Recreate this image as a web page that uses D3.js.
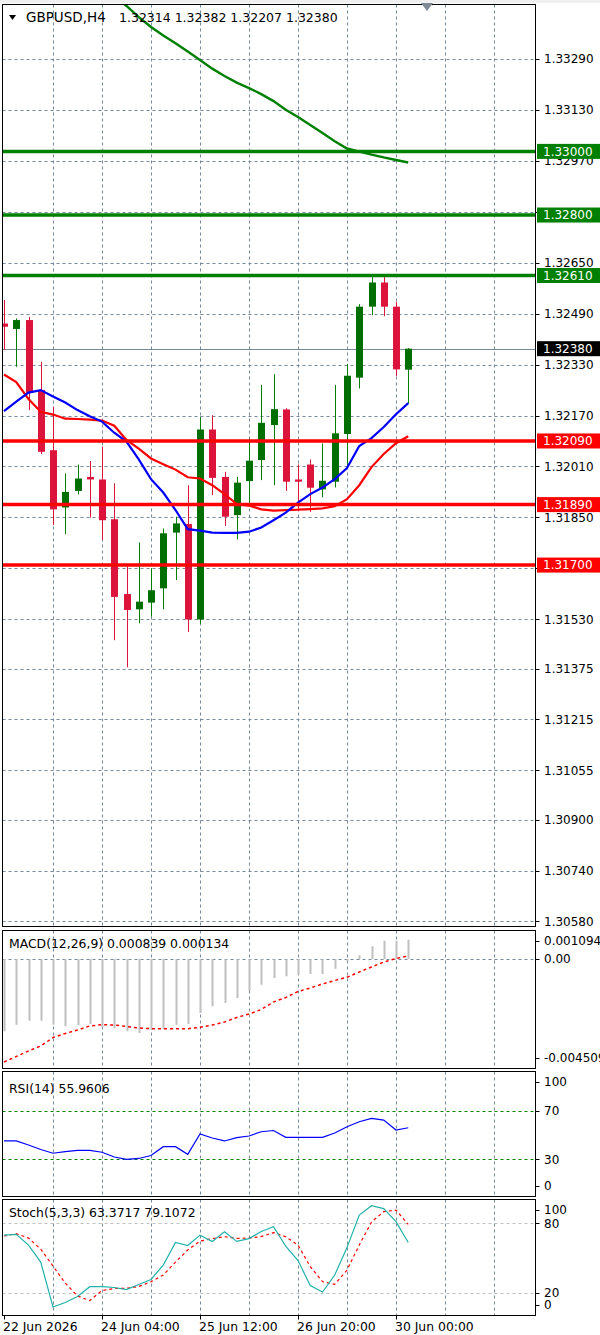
<!DOCTYPE html>
<html><head><meta charset="utf-8">
<script src="https://cdnjs.cloudflare.com/ajax/libs/d3/7.8.5/d3.min.js"></script>
<style>
body{margin:0;background:#fff;}
svg{display:block;font-family:"DejaVu Sans",sans-serif;}
</style>
</head><body>
<svg id="chart" width="600" height="1335"></svg>
<script>
// ---------------- DATA ----------------
const symbolTitle = "GBPUSD,H4";
const headerOHLC = ["1.32314", "1.32382", "1.32207", "1.32380"];

const opens  = [1.32459,1.32442,1.32470,1.32250,1.32061,1.31881,1.31933,1.31977,1.31969,1.31844,
                1.31609,1.31561,1.31582,1.31627,1.31802,1.31829,1.31529,1.32126,1.31977,1.31857,
                1.31964,1.32030,1.32140,1.32189,1.31969,1.32016,1.31938,1.31962,1.32112,1.32289,
                1.32512,1.32588,1.32512,1.32314];
const highs  = [1.32533,1.32475,1.32480,1.32339,1.32197,1.31988,1.32016,1.32027,1.32072,1.31957,
                1.31695,1.31771,1.31690,1.31815,1.31852,1.31951,1.32166,1.32171,1.31993,1.31977,
                1.32098,1.32266,1.32300,1.32193,1.32016,1.32032,1.32082,1.32266,1.32332,1.32520,
                1.32606,1.32606,1.32527,1.32382];
const lows   = [1.32376,1.32323,1.32187,1.32049,1.31826,1.31797,1.31922,1.31849,1.31779,1.31464,
                1.31379,1.31517,1.31538,1.31561,1.31653,1.31490,1.31515,1.31920,1.31823,1.31781,
                1.31883,1.31967,1.31951,1.31933,1.31871,1.31867,1.31913,1.31944,1.32011,1.32255,
                1.32486,1.32482,1.32294,1.32207];
const closes = [1.32449,1.32470,1.32241,1.32056,1.31875,1.31930,1.31972,1.31969,1.31841,1.31600,
                1.31559,1.31585,1.31621,1.31800,1.31831,1.31529,1.32126,1.31974,1.31852,1.31959,
                1.32028,1.32147,1.32190,1.31962,1.31962,1.31943,1.31965,1.32114,1.32295,1.32512,
                1.32588,1.32512,1.32315,1.32380];

const maBlue = [1.32184,1.32214,1.32242,1.32250,1.32230,1.32211,1.32187,1.32168,1.32151,1.32116,
                1.32088,1.32032,1.31970,1.31928,1.31873,1.31813,1.31808,1.31802,1.31801,1.31801,
                1.31805,1.31818,1.31841,1.31865,1.31896,1.31923,1.31944,1.31970,1.32005,1.32074,
                1.32099,1.32134,1.32174,1.32209];
const maRed  = [1.32299,1.32275,1.32222,1.32182,1.32173,1.32160,1.32159,1.32157,1.32154,1.32138,
                1.32093,1.32066,1.32035,1.32017,1.32000,1.31976,1.31972,1.31951,1.31923,1.31892,
                1.31887,1.31875,1.31871,1.31873,1.31874,1.31876,1.31878,1.31885,1.31907,1.31951,
                1.32008,1.32049,1.32083,1.32105];
const maGreenStart = 8;
const maGreen = [1.33519,1.33488,1.33457,1.33422,1.33391,1.33364,1.33340,1.33314,1.33287,1.33260,
                 1.33237,1.33216,1.33199,1.33180,1.33158,1.33131,1.33108,1.33083,1.33058,1.33032,
                 1.33009,1.32999,1.32990,1.32981,1.32973,1.32965];

const greenLevels = [1.33000, 1.32800, 1.32610];
const redLevels   = [1.32090, 1.31890, 1.31700];
const currentPrice = 1.32380;

const priceTicks = [1.33290,1.33130,1.32970,1.32810,1.32650,1.32490,1.32330,1.32170,1.32010,
                    1.31850,1.31690,1.31530,1.31375,1.31215,1.31055,1.30900,1.30740,1.30580];

const macdHist = [-0.003165,-0.002876,-0.002701,-0.002701,-0.002880,-0.002946,-0.002902,-0.002845,-0.002990,-0.003020,
                  -0.003165,-0.003240,-0.003095,-0.003051,-0.002876,-0.002845,-0.002364,-0.002071,-0.001926,-0.001707,
                  -0.001414,-0.001125,-0.000832,-0.000757,-0.000687,-0.000657,-0.000657,-0.000425,-0.000100,0.000162,
                  0.000556,0.000801,0.000801,0.000839];
const macdSignal = [-0.004509,-0.004268,-0.004027,-0.003809,-0.003437,-0.003261,-0.003108,-0.002933,-0.002876,-0.002889,
                    -0.002955,-0.003020,-0.003051,-0.003051,-0.003051,-0.003051,-0.002990,-0.002889,-0.002758,-0.002561,
                    -0.002408,-0.002211,-0.001882,-0.001685,-0.001423,-0.001270,-0.001094,-0.000941,-0.000801,-0.000569,
                    -0.000350,-0.000131,0.000020,0.000134];
const macdAxis = [{v:0.001094,t:"0.001094"},{v:0,t:"0.00"},{v:-0.004509,t:"-0.004509"}];
const macdTitle = "MACD(12,26,9) 0.000839 0.000134";

const rsi = [45.1,45.1,41.8,38.1,35.0,36.4,37.4,37.4,35.8,31.9,
             29.9,30.7,33.1,40.4,40.4,34.1,50.8,47.5,45.1,47.8,
             49.2,52.7,53.7,48.1,48.1,48.1,48.1,51.6,56.8,60.9,
             63.7,62.3,54.1,55.96];
const rsiLevels = [70, 30];
const rsiAxis = [100, 70, 30, 0];
const rsiTitle = "RSI(14) 55.9606";

const stochK = [69.8,70.4,61.2,46.5,7.6,11.5,16.7,25.2,25.2,24.5,
                22.6,27.1,31.4,43.9,63.5,60.8,69.8,64.2,72.7,64.4,
                66.8,72.9,77.0,60.3,47.8,26.2,20.6,35.3,59.0,87.1,
                95.2,92.7,81.5,63.37];
const stochD = [69.0,71.1,67.2,57.7,43.0,28.3,17.1,13.2,21.9,23.6,
                23.8,25.3,29.5,35.3,46.5,56.9,64.6,66.8,68.4,67.0,
                67.2,68.5,72.0,68.4,61.2,42.6,29.6,27.2,39.6,61.2,
                81.1,90.1,91.4,79.11];
const stochLevels = [80, 20];
const stochAxis = [100, 80, 20, 0];
const stochTitle = "Stoch(5,3,3) 63.3717 79.1072";

const timeLabels = ["22 Jun 2026","24 Jun 04:00","25 Jun 12:00","26 Jun 20:00","30 Jun 00:00"];
const timeLabelBars = [0, 8, 16, 24, 32];
const gridBars = [4,8,12,16,20,24,28,32,36,40];

// ---------------- LAYOUT ----------------
const L = 2.5, R = 535.5;
const panels = {
  main:  {top: 4.5,    bottom: 926.5},
  macd:  {top: 930.5,  bottom: 1068.5},
  rsi:   {top: 1071.5, bottom: 1196.5},
  stoch: {top: 1199.5, bottom: 1315.5}
};
const GRID = "#778899";
const FS = 12;

const svg = d3.select("#chart");
svg.append("rect").attr("width",600).attr("height",1335).attr("fill","#fff");
svg.append("rect").attr("width",600).attr("height",3).attr("fill","#f0f0f0");

const x = d3.scaleLinear().domain([0, 43]).range([4, 4 + 12.25*43]);
const yMain  = d3.scaleLinear().domain([1.30569, 1.33460]).range([925, 5]);
const yMacd  = d3.scaleLinear().domain([-0.004509, 0.001094]).range([1062, 934]);
const yRsi   = d3.scaleLinear().domain([0, 100]).range([1195.8, 1074.2]);
const yStoch = d3.scaleLinear().domain([0, 100]).range([1315.8, 1200.2]);

const defs = svg.append("defs");
Object.entries(panels).forEach(([k,p]) => {
  defs.append("clipPath").attr("id","clip-"+k)
    .append("rect").attr("x",L).attr("y",p.top).attr("width",R-L).attr("height",p.bottom-p.top);
});

function vGrid(g, p) {
  g.selectAll("line.vg").data(gridBars).join("line").attr("class","vg")
    .attr("x1", d => Math.round(x(d))+0.5).attr("x2", d => Math.round(x(d))+0.5)
    .attr("y1", p.top).attr("y2", p.bottom)
    .attr("stroke", GRID).attr("stroke-dasharray","3,3").attr("stroke-width",1);
}
function hLine(g, y, color, dash, w) {
  g.append("line").attr("x1",L).attr("x2",R).attr("y1",y).attr("y2",y)
    .attr("stroke",color).attr("stroke-width",w||1).attr("stroke-dasharray",dash||null);
}
function axisTick(y) {
  svg.append("line").attr("x1",R).attr("x2",R+4).attr("y1",Math.round(y)+0.5).attr("y2",Math.round(y)+0.5).attr("stroke","#000");
}
function axisText(y, t, fill) {
  axisTick(y);
  svg.append("text").attr("x",544).attr("y",y).attr("dy","0.36em")
    .attr("font-size",FS).attr("fill",fill||"#000").text(t);
}
function clampLabel(y, p) { return Math.min(Math.max(y, p.top + 10.5), p.bottom - 10.5); }

// ---------------- MAIN PANEL ----------------
const pm = panels.main;
const gMain = svg.append("g").attr("clip-path","url(#clip-main)");
vGrid(gMain, pm);
priceTicks.forEach(v => hLine(gMain, Math.round(yMain(v))+0.5, GRID, "3,3"));

// header
svg.append("path").attr("d","M9,15 L16,15 L12.5,20 Z").attr("fill","#000");
svg.append("text").attr("x",26).attr("y",17).attr("dy","0.36em").attr("font-size",13.5).attr("fill","#000")
  .text(symbolTitle);
svg.append("text").attr("x",119).attr("y",17).attr("dy","0.36em").attr("font-size",12.5).attr("fill","#000")
  .text(headerOHLC.join(" "));

// current price line
hLine(gMain, Math.round(yMain(currentPrice))+0.5, "#778899", null, 1);

// candles
const bars = d3.range(opens.length).map(i => ({i, o:opens[i], h:highs[i], l:lows[i], c:closes[i]}));
const up = "#006e00", dn = "#dc143c";
gMain.selectAll("line.wick").data(bars).join("line").attr("class","wick")
  .attr("x1", d => Math.round(x(d.i))+0.5).attr("x2", d => Math.round(x(d.i))+0.5)
  .attr("y1", d => yMain(d.h)).attr("y2", d => yMain(d.l))
  .attr("stroke", d => d.c >= d.o ? "#008000" : dn).attr("stroke-width",1);
gMain.selectAll("rect.body").data(bars).join("rect").attr("class","body")
  .attr("x", d => Math.round(x(d.i)) - 3)
  .attr("width", 7)
  .attr("y", d => yMain(Math.max(d.o,d.c)))
  .attr("height", d => Math.max(1.5, Math.abs(yMain(d.o) - yMain(d.c))))
  .attr("fill", d => d.c >= d.o ? up : dn);

// moving averages
const lineMain = d3.line().x(d => x(d[0])).y(d => yMain(d[1]));
gMain.append("path").attr("d", lineMain(maRed.map((v,i)=>[i,v]))).attr("fill","none").attr("stroke","#ff0000").attr("stroke-width",2.2);
gMain.append("path").attr("d", lineMain(maBlue.map((v,i)=>[i,v]))).attr("fill","none").attr("stroke","#0000ff").attr("stroke-width",2.2);
gMain.append("path").attr("d", lineMain(maGreen.map((v,i)=>[i+maGreenStart,v]))).attr("fill","none").attr("stroke","#008000").attr("stroke-width",2.4);

// levels
greenLevels.forEach(v => hLine(gMain, yMain(v), "#008000", null, 3.5));
redLevels.forEach(v => hLine(gMain, yMain(v), "#ff0000", null, 3.5));

// panel border
svg.append("rect").attr("x",L).attr("y",pm.top).attr("width",R-L).attr("height",pm.bottom-pm.top)
  .attr("fill","none").attr("stroke","#000");

// price axis (labels fully covered by a level box are not visible in the reference)
const boxed = greenLevels.concat(redLevels, [currentPrice]);
priceTicks.forEach(v => {
  const hidden = boxed.some(b => Math.abs(yMain(b) - yMain(v)) < 5);
  if (hidden) axisTick(yMain(v)); else axisText(yMain(v), d3.format(".5f")(v));
});
function levelBox(v, bg) {
  const y = yMain(v);
  svg.append("rect").attr("x",537).attr("y",y-7.5).attr("width",63).attr("height",15).attr("fill",bg);
  svg.append("text").attr("x",543).attr("y",y).attr("dy","0.36em").attr("font-size",FS).attr("fill","#fff").text(d3.format(".5f")(v));
}
greenLevels.forEach(v => levelBox(v, "#008000"));
redLevels.forEach(v => levelBox(v, "#ff0000"));
levelBox(currentPrice, "#000");

// shift marker
svg.append("path").attr("d","M421,3 L433,3 L427,11 Z").attr("fill","#7f8a96");

// ---------------- MACD ----------------
const pM = panels.macd;
const gM = svg.append("g").attr("clip-path","url(#clip-macd)");
vGrid(gM, pM);
hLine(gM, Math.round(yMacd(0))+0.5, GRID, "3,3");
gM.selectAll("line.h").data(macdHist).join("line").attr("class","h")
  .attr("x1",(d,i)=>Math.round(x(i))+0.5).attr("x2",(d,i)=>Math.round(x(i))+0.5)
  .attr("y1", yMacd(0)).attr("y2", d => yMacd(d))
  .attr("stroke","#c0c0c0").attr("stroke-width",2);
gM.append("path").attr("d", d3.line().x((d,i)=>x(i)).y(d=>yMacd(d))(macdSignal))
  .attr("fill","none").attr("stroke","#ff0000").attr("stroke-width",1.5).attr("stroke-dasharray","3,3");
svg.append("rect").attr("x",L).attr("y",pM.top).attr("width",R-L).attr("height",pM.bottom-pM.top).attr("fill","none").attr("stroke","#000");
svg.append("text").attr("x",9).attr("y",944).attr("dy","0.36em").attr("font-size",12.4).text(macdTitle);
macdAxis.forEach(a => axisText(clampLabel(yMacd(a.v), pM), a.t));

// ---------------- RSI ----------------
const pR = panels.rsi;
const gR = svg.append("g").attr("clip-path","url(#clip-rsi)");
vGrid(gR, pR);
rsiLevels.forEach(v => hLine(gR, Math.round(yRsi(v))+0.5, "#008000", "3,3"));
gR.append("path").attr("d", d3.line().x((d,i)=>x(i)).y(d=>yRsi(d))(rsi))
  .attr("fill","none").attr("stroke","#0000ff").attr("stroke-width",1.2);
svg.append("rect").attr("x",L).attr("y",pR.top).attr("width",R-L).attr("height",pR.bottom-pR.top).attr("fill","none").attr("stroke","#000");
svg.append("text").attr("x",9).attr("y",1089).attr("dy","0.36em").attr("font-size",12.4).text(rsiTitle);
rsiAxis.forEach(v => axisText(clampLabel(yRsi(v), pR), String(v)));

// ---------------- STOCH ----------------
const pS = panels.stoch;
const gS = svg.append("g").attr("clip-path","url(#clip-stoch)");
vGrid(gS, pS);
stochLevels.forEach(v => hLine(gS, Math.round(yStoch(v))+0.5, "#c0c0c0", "3,3"));
gS.append("path").attr("d", d3.line().x((d,i)=>x(i)).y(d=>yStoch(d))(stochD))
  .attr("fill","none").attr("stroke","#ff0000").attr("stroke-width",1.2).attr("stroke-dasharray","3,3");
gS.append("path").attr("d", d3.line().x((d,i)=>x(i)).y(d=>yStoch(d))(stochK))
  .attr("fill","none").attr("stroke","#20b2aa").attr("stroke-width",1.2);
svg.append("rect").attr("x",L).attr("y",pS.top).attr("width",R-L).attr("height",pS.bottom-pS.top).attr("fill","none").attr("stroke","#000");
svg.append("text").attr("x",9).attr("y",1213).attr("dy","0.36em").attr("font-size",12.4).text(stochTitle);
stochAxis.forEach(v => axisText(clampLabel(yStoch(v), pS), String(v)));

// ---------------- TIME AXIS ----------------
timeLabelBars.forEach((b,k) => {
  const xx = Math.round(x(b))+0.5;
  svg.append("line").attr("x1",xx).attr("x2",xx).attr("y1",pS.bottom).attr("y2",pS.bottom+4).attr("stroke","#000");
  svg.append("text").attr("x", Math.max(3, xx-1.5)).attr("y",1327).attr("dy","0.36em").attr("font-size",12.4).text(timeLabels[k]);
});
</script>
</body></html>
